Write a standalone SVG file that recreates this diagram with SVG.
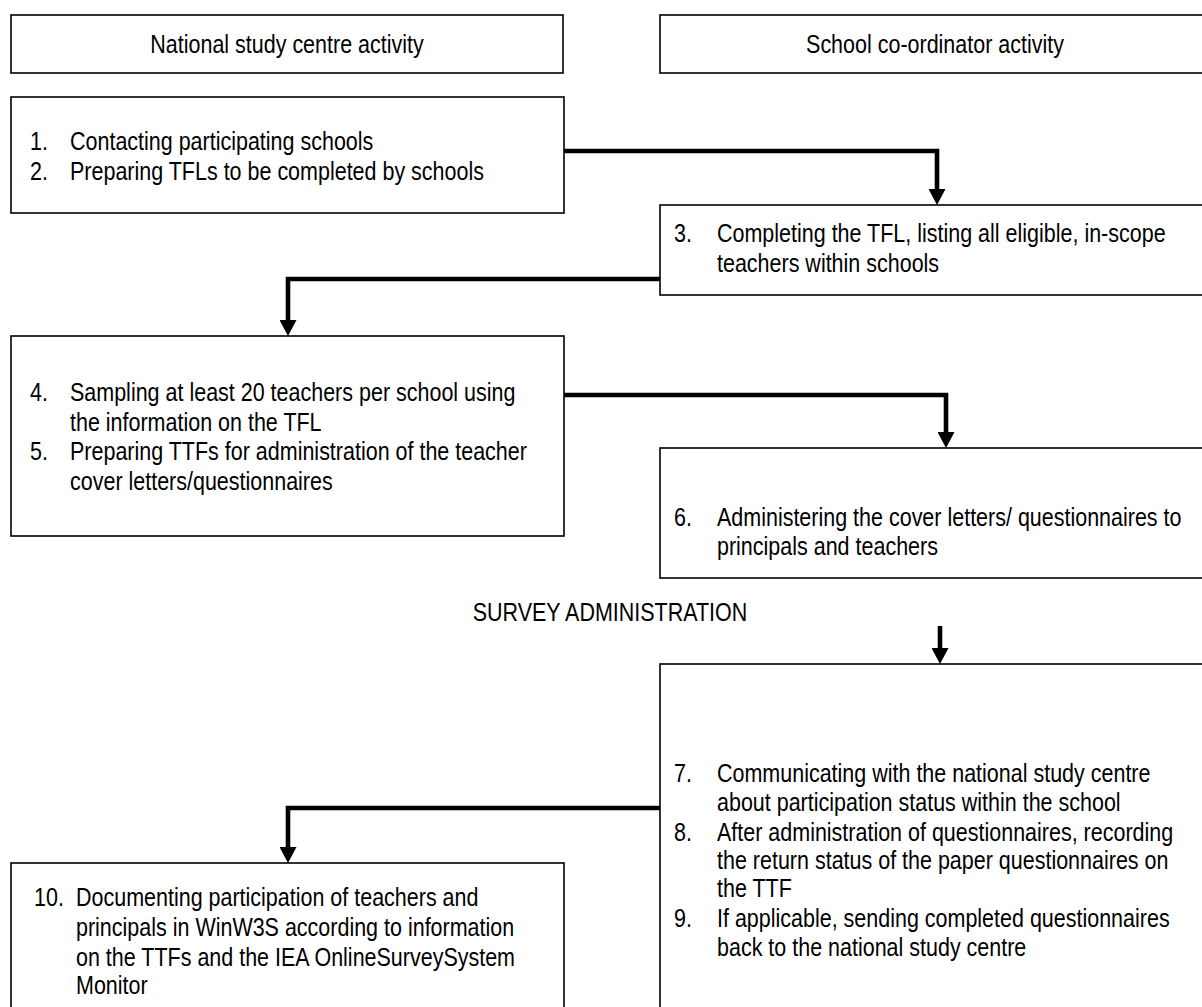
<svg xmlns="http://www.w3.org/2000/svg" width="1202" height="1007" viewBox="0 0 1202 1007">
<style>
.box{fill:#fff;stroke:#000;stroke-width:1.6}
.t{font-family:"Liberation Sans",Arial,sans-serif;font-size:25px;fill:#000}
.c{text-anchor:middle}
.con{fill:none;stroke:#000;stroke-width:4.6;stroke-linejoin:miter;stroke-linecap:butt}
</style>
<defs>
<marker id="ah" markerUnits="userSpaceOnUse" markerWidth="17" markerHeight="17" refX="0" refY="8.5" orient="auto">
<path d="M0,0 L16,8.5 L0,17 z" fill="#000"/>
</marker>
</defs>
<rect width="1202" height="1007" fill="#fff"/>
<g id="connectors">
<path class="con" d="M564,151 H937 V189" marker-end="url(#ah)"/>
<path class="con" d="M660,279 H288 V320" marker-end="url(#ah)"/>
<path class="con" d="M564,395 H946 V432" marker-end="url(#ah)"/>
<path class="con" d="M940,626 V648" marker-end="url(#ah)"/>
<path class="con" d="M660,808 H288 V847" marker-end="url(#ah)"/>
</g>
<g id="header-national">
<rect class="box" x="11" y="15" width="552" height="58"/>
<text class="t c" transform="translate(287,53) scale(0.86,1)">National study centre activity</text>
</g>
<g id="header-school">
<rect class="box" x="660" y="15" width="560" height="58"/>
<text class="t c" transform="translate(935,53) scale(0.86,1)">School co-ordinator activity</text>
</g>
<g id="box1">
<rect class="box" x="11" y="97" width="553" height="116"/>
<text class="t" transform="translate(30,150) scale(0.86,1)">1.</text><text class="t" transform="translate(70,150) scale(0.86,1)">Contacting participating schools</text>
<text class="t" transform="translate(30,180) scale(0.86,1)">2.</text><text class="t" transform="translate(70,180) scale(0.86,1)">Preparing TFLs to be completed by schools</text>
</g>
<g id="box3">
<rect class="box" x="660" y="205" width="560" height="90"/>
<text class="t" transform="translate(674,242) scale(0.86,1)">3.</text><text class="t" transform="translate(717,242) scale(0.86,1)">Completing the TFL, listing all eligible, in-scope</text>
<text class="t" transform="translate(717,272) scale(0.86,1)">teachers within schools</text>
</g>
<g id="box4">
<rect class="box" x="11" y="336" width="553" height="200"/>
<text class="t" transform="translate(30,401) scale(0.86,1)">4.</text><text class="t" transform="translate(70,401) scale(0.86,1)">Sampling at least 20 teachers per school using</text>
<text class="t" transform="translate(70,431) scale(0.86,1)">the information on the TFL</text>
<text class="t" transform="translate(30,460) scale(0.86,1)">5.</text><text class="t" transform="translate(70,460) scale(0.86,1)">Preparing TTFs for administration of the teacher</text>
<text class="t" transform="translate(70,490) scale(0.86,1)">cover letters/questionnaires</text>
</g>
<g id="box6">
<rect class="box" x="660" y="448" width="560" height="130"/>
<text class="t" transform="translate(674,526) scale(0.86,1)">6.</text><text class="t" transform="translate(717,526) scale(0.86,1)">Administering the cover letters/ questionnaires to</text>
<text class="t" transform="translate(717,555) scale(0.86,1)">principals and teachers</text>
</g>
<g id="survey-label">
<text class="t c" transform="translate(610,621) scale(0.86,1)">SURVEY ADMINISTRATION</text>
</g>
<g id="box7">
<rect class="box" x="660" y="664" width="560" height="360"/>
<text class="t" transform="translate(674,782) scale(0.86,1)">7.</text><text class="t" transform="translate(717,782) scale(0.86,1)">Communicating with the national study centre</text>
<text class="t" transform="translate(717,811) scale(0.86,1)">about participation status within the school</text>
<text class="t" transform="translate(674,841) scale(0.86,1)">8.</text><text class="t" transform="translate(717,841) scale(0.86,1)">After administration of questionnaires, recording</text>
<text class="t" transform="translate(717,869) scale(0.86,1)">the return status of the paper questionnaires on</text>
<text class="t" transform="translate(717,897) scale(0.86,1)">the TTF</text>
<text class="t" transform="translate(674,927) scale(0.86,1)">9.</text><text class="t" transform="translate(717,927) scale(0.86,1)">If applicable, sending completed questionnaires</text>
<text class="t" transform="translate(717,956) scale(0.86,1)">back to the national study centre</text>
</g>
<g id="box10">
<rect class="box" x="11" y="863" width="553" height="160"/>
<text class="t" transform="translate(34,906) scale(0.86,1)">10.</text><text class="t" transform="translate(76,906) scale(0.86,1)">Documenting participation of teachers and</text>
<text class="t" transform="translate(76,936) scale(0.86,1)">principals in WinW3S according to information</text>
<text class="t" transform="translate(76,966) scale(0.86,1)">on the TTFs and the IEA OnlineSurveySystem</text>
<text class="t" transform="translate(76,994) scale(0.86,1)">Monitor</text>
</g>
</svg>
